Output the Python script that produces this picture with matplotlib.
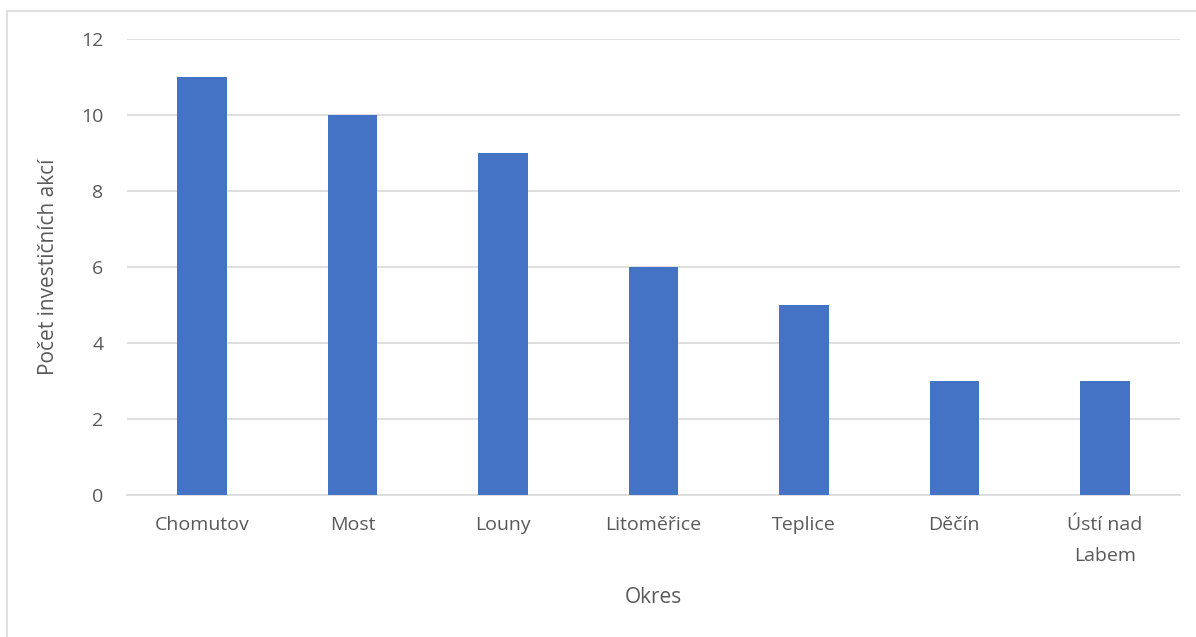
import matplotlib.pyplot as plt
from matplotlib.patches import Rectangle

okresy = ['Chomutov', 'Most', 'Louny', 'Litoměřice', 'Teplice', 'Děčín', 'Ústí nad\nLabem']
pocty = [11, 10, 9, 6, 5, 3, 3]

plt.rcParams['font.family'] = ['Open Sans', 'DejaVu Sans']

fig = plt.figure(figsize=(11.96, 6.37), dpi=100)
ax = fig.add_axes([127 / 1196, 1 - 495 / 637, (1180 - 127) / 1196, (495 - 39) / 637])

ax.bar(range(len(okresy)), pocty, width=0.33, color='#4472C4', zorder=3)

ax.set_xlim(-0.5, len(okresy) - 0.5)
ax.set_ylim(0, 12)
ax.set_yticks(range(0, 13, 2))
ax.set_xticks(range(len(okresy)))
ax.set_xticklabels(okresy, fontsize=14, color='#595959', linespacing=1.95)
ax.tick_params(axis='y', labelsize=14, labelcolor='#595959', length=0, pad=17)
ax.tick_params(axis='x', length=0, pad=15)

ax.grid(axis='y', color='#D9D9D9', linewidth=1.2, zorder=0)
for s in ['top', 'right', 'left']:
    ax.spines[s].set_visible(False)
ax.spines['bottom'].set_color('#D9D9D9')
ax.spines['bottom'].set_linewidth(1.2)

ax.set_xlabel('Okres', fontsize=15, color='#595959', labelpad=16)
ax.set_ylabel('Počet investičních akcí', fontsize=15, color='#595959', labelpad=16)

# chart frame (only left and top edges are visible)
fig.patches.append(Rectangle((6.5 / 1196, -0.5), 2, 0.5 + 1 - 10.5 / 637,
                             transform=fig.transFigure, fill=False,
                             edgecolor='#D9D9D9', linewidth=1.2))

fig.savefig('out.png', dpi=100)
